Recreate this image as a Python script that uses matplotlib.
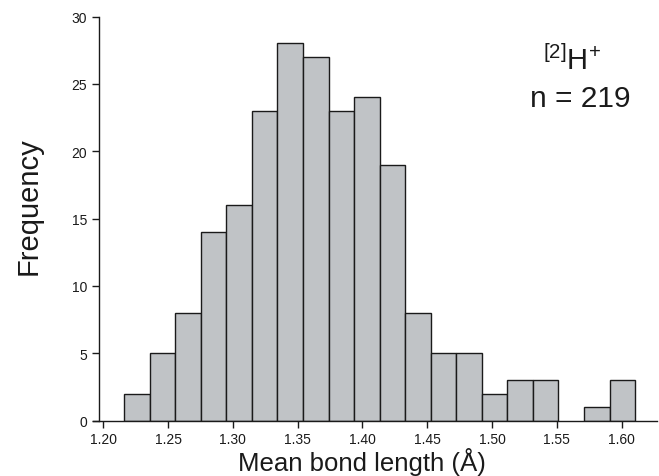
import numpy as np
import matplotlib
matplotlib.use('Agg')
import matplotlib.pyplot as plt

plt.rcParams['font.family'] = ['Liberation Sans', 'DejaVu Sans']
plt.rcParams['mathtext.fontset'] = 'custom'
plt.rcParams['mathtext.rm'] = 'Liberation Sans'
plt.rcParams['mathtext.default'] = 'regular'

# --- Data ---
bin_start = 1.2162
bin_width = 0.01971
counts = [2, 5, 8, 14, 16, 23, 28, 27, 23, 24, 19, 8, 5, 5, 2, 3, 3, 0, 1, 3]
x_ticks = [1.20, 1.25, 1.30, 1.35, 1.40, 1.45, 1.50, 1.55, 1.60]
y_ticks = [0, 5, 10, 15, 20, 25, 30]

counts = np.array(counts)
lefts = bin_start + bin_width * np.arange(len(counts))
keep = counts > 0

# --- Plot ---
fig = plt.figure(figsize=(6.59, 4.77), dpi=100)
ax = fig.add_axes([93 / 659, 1 - 421.5 / 477, 564 / 659, 404 / 477])

ax.bar(lefts[keep], counts[keep], width=bin_width, align='edge',
       color='#c0c3c6', edgecolor='#1a1a1a', linewidth=1.0)

ax.set_xlim(1.1921, 1.6273)
ax.set_ylim(0, 30)
ax.spines['left'].set_position(('data', 1.1967))
ax.spines['top'].set_visible(False)
ax.spines['right'].set_visible(False)
for s in ('left', 'bottom'):
    ax.spines[s].set_linewidth(1.0)
    ax.spines[s].set_color('#1a1a1a')

ax.set_xticks(x_ticks)
ax.set_xticklabels([f"{v:.2f}" for v in x_ticks])
ax.set_yticks(y_ticks)
ax.tick_params(direction='out', length=5, width=1.0, labelsize=10, colors='#1a1a1a')

# --- Labels and annotation ---
fig.text(29 / 659, 1 - 206 / 477, "Frequency", rotation=90, fontsize=21,
         ha='center', va='center', color='#1a1a1a')
fig.text(361.5 / 659, 1 - 471.5 / 477, "Mean bond length (Å)", fontsize=18.5,
         ha='center', va='baseline', color='#1a1a1a')

fig.text(572 / 659, 1 - 70 / 477, r"$^{[2]}$H$^{+}$", fontsize=21,
         ha='center', va='baseline', color='#1a1a1a')
fig.text(580 / 659, 1 - 107 / 477, "n = 219", fontsize=21.5,
         ha='center', va='baseline', color='#1a1a1a')

fig.savefig('out.png', dpi=100)
